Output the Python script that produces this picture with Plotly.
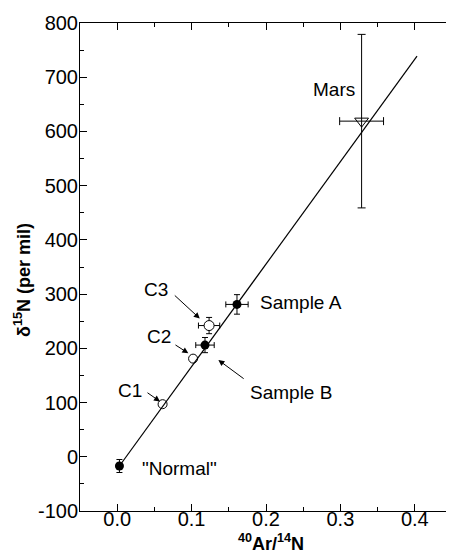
import plotly.graph_objects as go

# ---- data ----
fit_x = [0.003, 0.403]
fit_y = [-17, 739]

filled_x = [0.003, 0.118, 0.161]
filled_y = [-17, 206, 281]
filled_xerr = [0.0, 0.0124, 0.015]
filled_yerr = [12, 14, 18]

open_x = [0.061, 0.102]
open_y = [97, 181]

c3_x = [0.1235]
c3_y = [242]
c3_xerr = [0.0143]
c3_yerr = [15]

mars_x = [0.3285]
mars_y = [619]
mars_xerr = [0.0295]
mars_yerr = [160]

y_ticks = [-100, 0, 100, 200, 300, 400, 500, 600, 700, 800]
y_ticktext = ["-100", "0", "100", "200", "300", "400", "500", "600", "700", "800"]
x_ticks = [0.0, 0.1, 0.2, 0.3, 0.4]
x_ticktext = ["0.0", "0.1", "0.2", "0.3", "0.4"]

FONT = "Liberation Sans, Arial, Helvetica, sans-serif"

# page body has an 8px margin, so the figure is drawn 8px lower/righter
OFF = 8
W, H = 454 - OFF, 555 - OFF
L, T, B = 80 - OFF, 23 - OFF, 555 - 511

fig = go.Figure()

fig.add_trace(go.Scatter(x=fit_x, y=fit_y, mode="lines",
                         line=dict(color="black", width=1.2), hoverinfo="skip"))

fig.add_trace(go.Scatter(
    x=open_x, y=open_y, mode="markers",
    marker=dict(symbol="circle-open", size=9, color="black", line=dict(width=1))))

fig.add_trace(go.Scatter(
    x=c3_x, y=c3_y, mode="markers",
    marker=dict(symbol="circle", size=10, color="white", line=dict(color="black", width=1)),
    error_x=dict(type="data", array=c3_xerr, color="black", thickness=1, width=3),
    error_y=dict(type="data", array=c3_yerr, color="black", thickness=1, width=3)))

fig.add_trace(go.Scatter(
    x=filled_x, y=filled_y, mode="markers",
    marker=dict(symbol="circle", size=9, color="black"),
    error_x=dict(type="data", array=filled_xerr, color="black", thickness=1, width=3),
    error_y=dict(type="data", array=filled_yerr, color="black", thickness=1, width=3)))

fig.add_trace(go.Scatter(
    x=mars_x, y=mars_y, mode="markers",
    marker=dict(symbol="triangle-down-open", size=12, color="black", line=dict(width=1)),
    error_x=dict(type="data", array=mars_xerr, color="black", thickness=1, width=4),
    error_y=dict(type="data", array=mars_yerr, color="black", thickness=1, width=4)))

ann = []
def label(text, x, y, xanchor="center", size=19):
    ann.append(dict(x=x, y=y, xref="x", yref="y", text=text, showarrow=False,
                    xanchor=xanchor, yanchor="middle",
                    font=dict(family=FONT, size=size, color="black")))

def arrow(tx, ty, hx, hy):
    ann.append(dict(x=hx, y=hy, ax=tx, ay=ty, xref="x", yref="y", axref="x", ayref="y",
                    text="", showarrow=True, arrowhead=2, arrowsize=1.2, arrowwidth=1,
                    arrowcolor="black", standoff=0, startstandoff=0))

label("C3", 0.052, 308)
label("C2", 0.056, 221)
label("C1", 0.017, 123)
label("Sample A", 0.189, 284, xanchor="left")
label("Sample B", 0.234, 118)
label("Mars", 0.291, 677)
label('"Normal"', 0.031, -21, xanchor="left")

arrow(0.0754, 300, 0.111, 255)
arrow(0.0763, 208, 0.0956, 191)
arrow(0.0387, 120, 0.0575, 102)
arrow(0.172, 142, 0.136, 178.5)

# axis titles (positions in screen pixels converted to paper coords)
ann.append(dict(x=(22 - 80) / 374, y=(511 - 280) / 488,
                xref="paper", yref="paper", text="<b>δ<sup>15</sup>N (per mil)</b>",
                textangle=-90, showarrow=False, xanchor="center", yanchor="middle",
                font=dict(family=FONT, size=18, color="black")))
ann.append(dict(x=(271 - 80) / 374, y=-(542 - 511) / 488,
                xref="paper", yref="paper", text="<b><sup>40</sup>Ar/<sup>14</sup>N</b>",
                showarrow=False, xanchor="center", yanchor="middle",
                font=dict(family=FONT, size=18, color="black")))

axis_common = dict(showline=True, linecolor="black", linewidth=1, mirror="ticks",
                   ticks="inside", ticklen=7, tickwidth=1, tickcolor="black",
                   showgrid=False, zeroline=False, automargin=False,
                   tickfont=dict(family=FONT, size=20, color="black"))

fig.update_layout(
    width=W, height=H,
    margin=dict(l=L, r=0, t=T, b=B),
    paper_bgcolor="white", plot_bgcolor="white",
    showlegend=False,
    annotations=ann,
    xaxis=dict(range=[-0.05, 0.4527], tickvals=x_ticks, ticktext=x_ticktext,
               ticklabelstandoff=-10,
               minor=dict(ticks="inside", ticklen=4, dtick=0.05, tick0=0, tickcolor="black"),
               **axis_common),
    yaxis=dict(range=[-100, 800], tickvals=y_ticks, ticktext=y_ticktext,
               ticklabelstandoff=-3,
               minor=dict(ticks="inside", ticklen=4, dtick=50, tick0=0, tickcolor="black"),
               **axis_common),
)

fig.write_html("out.html")
